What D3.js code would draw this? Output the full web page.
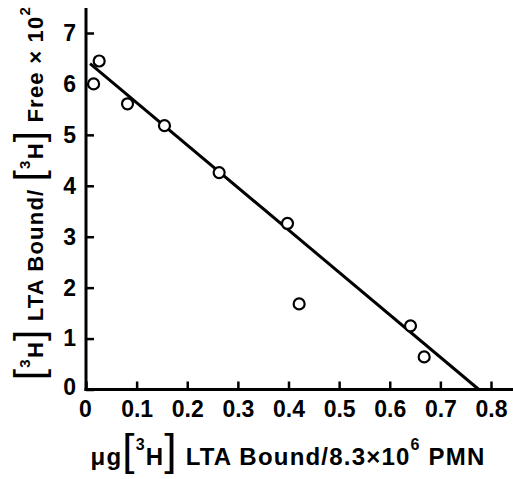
<!DOCTYPE html>
<html>
<head>
<meta charset="utf-8">
<script src="https://cdn.jsdelivr.net/npm/d3@7"></script>
<style>
  body { margin: 0; background: #fff; }
  text { font-family: "Liberation Sans", Arial, sans-serif; fill: #000; }
</style>
</head>
<body>
<div id="wrapper"></div>
<script>
// values
const boundX = [0.015, 0.026, 0.082, 0.155, 0.263, 0.398, 0.421, 0.641, 0.668];
const ratioY = [6.0, 6.45, 5.61, 5.18, 4.26, 3.26, 1.68, 1.25, 0.64];
const fitX = [0.008, 0.776];
const fitY = [6.40, 0];
const xTicks = [0, 0.1, 0.2, 0.3, 0.4, 0.5, 0.6, 0.7, 0.8];
const xTickLabels = ["0", "0.1", "0.2", "0.3", "0.4", "0.5", "0.6", "0.7", "0.8"];
const yTicks = [0, 1, 2, 3, 4, 5, 6, 7];
const yTickLabels = ["0", "1", "2", "3", "4", "5", "6", "7"];

const dimension = {
    width: 513,
    height: 479,
    margin: { top: 33, left: 86, bottom: 89.5, right: 22 }
};
dimension.boundedWidth = dimension.width - dimension.margin.left - dimension.margin.right;
dimension.boundedHeight = dimension.height - dimension.margin.top - dimension.margin.bottom;

const svg = d3.select("#wrapper").append("svg")
    .attr("width", dimension.width)
    .attr("height", dimension.height);

const bounded = svg.append("g")
    .attr("transform", `translate(${dimension.margin.left},${dimension.margin.top})`);

const xScale = d3.scaleLinear().domain([0, 0.8]).range([0, dimension.boundedWidth]);
const yScale = d3.scaleLinear().domain([0, 7]).range([dimension.boundedHeight, 0]);

// axes, ticks pointing inwards
const xAxis = bounded.append("g")
    .attr("transform", `translate(0,${dimension.boundedHeight})`)
    .call(d3.axisBottom(xScale).tickValues(xTicks)
        .tickFormat((d, i) => xTickLabels[i])
        .tickSize(-8).tickSizeOuter(0).tickPadding(11));

const yAxis = bounded.append("g")
    .call(d3.axisLeft(yScale).tickValues(yTicks)
        .tickFormat((d, i) => yTickLabels[i])
        .tickSize(-8).tickSizeOuter(0).tickPadding(10));

[xAxis, yAxis].forEach(a => {
    a.select(".domain").remove();
    a.selectAll(".tick line").attr("stroke", "#000").attr("stroke-width", 2.5);
    a.selectAll(".tick text")
        .style("font-family", "'Liberation Sans', Arial, sans-serif")
        .style("font-size", "23px")
        .style("font-weight", "bold")
        .attr("fill", "#000");
});
// the two zeros sit off the corner
xAxis.selectAll(".tick").filter(d => d === 0).select("text").attr("dx", -1);
yAxis.selectAll(".tick").filter(d => d === 0).select("text").attr("dy", "0.2em");

// axis lines: x runs off to the right edge, y rises above the 7 tick
bounded.append("line")
    .attr("x1", -1.5).attr("x2", dimension.width)
    .attr("y1", dimension.boundedHeight).attr("y2", dimension.boundedHeight)
    .attr("stroke", "#000").attr("stroke-width", 3);
bounded.append("line")
    .attr("x1", 0).attr("x2", 0)
    .attr("y1", dimension.boundedHeight + 1.5).attr("y2", -25)
    .attr("stroke", "#000").attr("stroke-width", 3);

// fitted line
bounded.append("path")
    .datum(d3.zip(fitX, fitY))
    .attr("d", d3.line().x(d => xScale(d[0])).y(d => yScale(d[1])))
    .attr("fill", "none")
    .attr("stroke", "#000")
    .attr("stroke-width", 3);

// open circles
bounded.selectAll("circle")
    .data(d3.zip(boundX, ratioY))
    .join("circle")
    .attr("cx", d => xScale(d[0]))
    .attr("cy", d => yScale(d[1]))
    .attr("r", 5.5)
    .attr("fill", "#fff")
    .attr("stroke", "#000")
    .attr("stroke-width", 2.2);

// axis titles
function addTitle(t, parts, target) {
    parts.forEach(p => {
        const s = t.append("tspan").text(p.text);
        if (p.size) s.style("font-size", p.size + "px");
        if (p.weight) s.style("font-weight", p.weight);
        if (p.dy) s.attr("dy", p.dy);
    });
    // spread the letters out to the width of the original lettering
    const n = parts.reduce((a, p) => a + p.text.length, 0);
    const w = t.node().getComputedTextLength();
    t.style("letter-spacing", ((target - w) / n) + "px");
}

const xTitle = svg.append("text")
    .attr("x", 288).attr("y", 465)
    .attr("text-anchor", "middle")
    .style("font-size", "24px")
    .style("font-weight", "bold");
addTitle(xTitle, [
    { text: "\u03BCg" },
    { text: "[", size: 44, weight: "normal" },
    { text: "3", size: 16, dy: -15 },
    { text: "H", dy: 15 },
    { text: "]", size: 44, weight: "normal" },
    { text: " LTA Bound/8.3\u00D710" },
    { text: "6", size: 16, dy: -15 },
    { text: " PMN", dy: 15 }
], 395);

const yTitle = svg.append("text")
    .attr("transform", "translate(43,193) rotate(-90)")
    .attr("text-anchor", "middle")
    .style("font-size", "22px")
    .style("font-weight", "bold");
addTitle(yTitle, [
    { text: "[", size: 40, weight: "normal" },
    { text: "3", size: 15, dy: -13 },
    { text: "H", dy: 13 },
    { text: "]", size: 40, weight: "normal" },
    { text: " LTA Bound/ " },
    { text: "[", size: 40, weight: "normal" },
    { text: "3", size: 15, dy: -13 },
    { text: "H", dy: 13 },
    { text: "]", size: 40, weight: "normal" },
    { text: " Free \u00D7 10" },
    { text: "2", size: 15, dy: -13 }
], 374);
</script>
</body>
</html>
